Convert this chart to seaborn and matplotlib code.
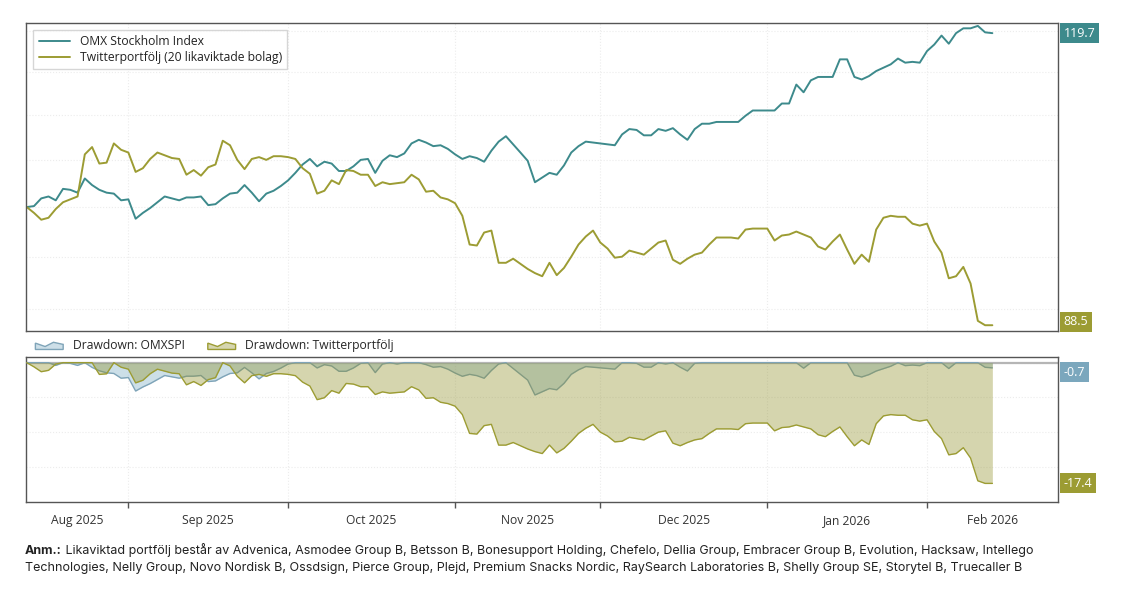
import numpy as np
import pandas as pd
import matplotlib
matplotlib.use("Agg")
import matplotlib.pyplot as plt
import matplotlib.transforms as mtransforms
from matplotlib.patches import Patch, Polygon
from matplotlib.legend_handler import HandlerPatch
from matplotlib.ticker import FixedLocator, NullLocator, NullFormatter
import seaborn as sns

# --- data (one value per trading day) ---
start_date = "2025-08-12"
omx = [100.0, 100.1, 100.9, 101.1, 100.7, 101.9, 101.8, 101.5, 103.0, 102.3,
       101.8, 101.5, 101.4, 100.7, 100.8, 98.8, 99.4, 99.9, 100.5, 101.1,
       100.9, 100.7, 101.0, 101.0, 101.1, 100.2, 100.3, 100.9, 101.4, 101.5,
       102.3, 101.5, 100.6, 101.4, 101.7, 102.2, 102.8, 103.6, 104.5, 105.1,
       104.3, 104.8, 104.6, 103.8, 103.8, 104.3, 105.0, 105.1, 103.6, 104.9,
       105.5, 105.3, 105.7, 106.8, 107.2, 106.9, 106.5, 106.6, 106.2, 105.6,
       105.1, 105.4, 105.2, 104.8, 106.0, 107.0, 107.6, 106.7, 105.8, 104.9,
       102.6, 103.1, 103.6, 103.4, 104.4, 105.8, 106.5, 107.0, 106.9, 106.8,
       106.7, 106.6, 107.8, 108.4, 108.3, 107.7, 107.7, 108.4, 108.2, 108.5,
       107.8, 107.2, 108.4, 109.0, 109.0, 109.2, 109.2, 109.2, 109.2, 109.9,
       110.5, 110.5, 110.5, 110.5, 111.3, 111.3, 113.5, 112.6, 114.0, 114.4,
       114.4, 114.4, 116.5, 116.5, 114.4, 114.1, 114.5, 115.1, 115.5, 115.9,
       116.6, 116.1, 116.2, 116.1, 117.5, 118.3, 119.4, 118.4, 119.7, 120.3,
       120.3, 120.6, 119.8, 119.7]
twitter = [100.0, 99.4, 98.7, 98.9, 99.8, 100.5, 100.8, 101.1, 105.6, 106.4,
           104.6, 104.7, 106.8, 106.1, 105.8, 103.7, 104.1, 105.1, 105.8, 105.5,
           105.2, 105.1, 103.4, 103.9, 103.3, 104.2, 104.5, 107.1, 106.6, 105.0,
           104.0, 105.1, 105.3, 105.0, 105.4, 105.4, 105.3, 105.1, 104.1, 103.5,
           101.4, 101.7, 102.8, 102.4, 103.9, 103.8, 103.4, 103.4, 102.2, 102.6,
           102.4, 102.5, 102.6, 103.4, 102.9, 101.6, 101.7, 101.0, 100.8, 100.4,
           99.1, 96.2, 96.1, 97.4, 97.6, 94.4, 94.4, 94.8, 94.3, 93.8,
           93.4, 93.1, 94.4, 93.2, 93.9, 95.0, 96.2, 97.0, 97.6, 96.4,
           95.8, 94.9, 95.0, 95.6, 95.4, 95.2, 95.8, 96.4, 96.6, 94.7,
           94.3, 94.8, 95.2, 95.4, 96.2, 96.9, 96.9, 96.9, 96.8, 97.7,
           97.8, 97.8, 97.8, 96.6, 97.1, 97.2, 97.5, 97.2, 96.9, 96.0,
           95.7, 96.5, 97.2, 95.7, 94.3, 95.2, 94.5, 97.7, 98.9, 99.1,
           99.0, 99.0, 98.3, 98.1, 98.3, 96.5, 95.4, 92.9, 93.1, 94.0,
           92.4, 88.9, 88.5, 88.5]
series_names = ["OMX Stockholm Index", "Twitterportfölj (20 likaviktade bolag)"]
dd_names = ["Drawdown: OMXSPI", "Drawdown: Twitterportfölj"]
note_bold = "Anm.:"
note_line1 = (" Likaviktad portfölj består av Advenica, Asmodee Group B, Betsson B, "
              "Bonesupport Holding, Chefelo, Dellia Group, Embracer Group B, Evolution, "
              "Hacksaw, Intellego")
note_line2 = ("Technologies, Nelly Group, Novo Nordisk B, Ossdsign, Pierce Group, Plejd, "
              "Premium Snacks Nordic, RaySearch Laboratories B, Shelly Group SE, Storytel B, "
              "Truecaller B")

TEAL = "#3d8a8c"
OLIVE = "#9c9c33"
BLUE_EDGE = "#7fa4b8"
BLUE_BOX = "#7ba7bd"
SPINE = "#555555"
GRID = "#ececec"

sns.set_style("white")
plt.rcParams["font.family"] = ["Open Sans", "DejaVu Sans"]

dates = pd.bdate_range(start_date, periods=len(omx))
pos = np.arange(len(dates))
df = pd.DataFrame({"pos": pos, series_names[0]: omx, series_names[1]: twitter})
long_df = df.melt(id_vars="pos", var_name="serie", value_name="value")

dd_omx = (df[series_names[0]] / df[series_names[0]].cummax() - 1) * 100
dd_tw = (df[series_names[1]] / df[series_names[1]].cummax() - 1) * 100

# month boundaries (first trading day of each month) and label centres
month_start = [i for i in range(1, len(dates)) if dates[i].month != dates[i - 1].month]
xmin, xmax = -0.1, 142.0
edges = [xmin] + month_start + [xmax]
label_pos = [(a + b) / 2 for a, b in zip(edges[:-1], edges[1:])]
month_labels = [dates[0].strftime("%b %Y")] + [dates[i].strftime("%b %Y") for i in month_start]

W, H = 1124, 595
fig = plt.figure(figsize=(W / 100, H / 100), dpi=100)
ax1 = fig.add_axes([26 / W, 1 - 330.7 / H, 1031.7 / W, 308 / H])
ax2 = fig.add_axes([26 / W, 1 - 501.7 / H, 1031.7 / W, 145 / H])

# --- top panel ---
sns.lineplot(data=long_df, x="pos", y="value", hue="serie",
             palette={series_names[0]: TEAL, series_names[1]: OLIVE},
             linewidth=1.4, ax=ax1)
ax1.set_yscale("log")
ax1.set_ylim(88.0, 121.0)
ax1.yaxis.set_major_locator(FixedLocator([90, 95, 100, 105, 110, 115, 120]))
ax1.yaxis.set_minor_locator(NullLocator())
ax1.yaxis.set_major_formatter(NullFormatter())
ax1.yaxis.set_minor_formatter(NullFormatter())
ax1.set_xlim(xmin, xmax)
ax1.xaxis.set_major_locator(FixedLocator(month_start))
ax1.tick_params(left=False, bottom=False, labelleft=False, labelbottom=False)
ax1.set_xlabel("")
ax1.set_ylabel("")
ax1.grid(True, color=GRID, linewidth=0.8, linestyle=":")
leg = ax1.legend(loc="upper left", frameon=True, fancybox=False, edgecolor="#cccccc",
                 fontsize=8.7, handlelength=2.6, borderpad=0.45, labelspacing=0.22,
                 borderaxespad=0.6, title=None)
leg.get_frame().set_linewidth(1.0)
for t in leg.get_texts():
    t.set_color("#222222")

# --- bottom panel ---
ax2.axhline(0, color="#b5b5b5", linewidth=1.6, zorder=1)
ax2.fill_between(pos, dd_omx, 0, color="#8fb8cc", alpha=0.45, linewidth=0, zorder=2)
sns.lineplot(x=pos, y=dd_omx, color=BLUE_EDGE, linewidth=1.0, ax=ax2, zorder=3)
ax2.fill_between(pos, dd_tw, 0, color="#8c8c20", alpha=0.36, linewidth=0, zorder=4)
sns.lineplot(x=pos, y=dd_tw, color=OLIVE, linewidth=1.0, ax=ax2, zorder=5)
ax2.set_ylim(-20.0, 0.86)
ax2.set_xlim(xmin, xmax)
ax2.yaxis.set_major_locator(FixedLocator([-15, -10, -5, 0]))
ax2.tick_params(axis="y", left=False, labelleft=False)
ax2.xaxis.set_major_locator(FixedLocator(month_start))
ax2.xaxis.set_major_formatter(NullFormatter())
ax2.xaxis.set_minor_locator(FixedLocator(label_pos))
ax2.set_xticklabels(month_labels, minor=True)
ax2.tick_params(axis="x", which="major", bottom=True, length=4, width=1, color=SPINE, direction="out")
ax2.tick_params(axis="x", which="minor", bottom=True, length=0, pad=9, labelsize=8.7, labelcolor="#333333")
ax2.set_xlabel("")
ax2.set_ylabel("")
ax2.grid(True, which="major", color=GRID, linewidth=0.8, linestyle=":")


def area_icon(legend, orig_handle, xdescent, ydescent, width, height, fontsize):
    pts = [(-xdescent, -ydescent), (-xdescent, -ydescent + 0.75 * height),
           (-xdescent + 0.35 * width, -ydescent + 0.35 * height),
           (-xdescent + 0.65 * width, -ydescent + 0.85 * height),
           (-xdescent + width, -ydescent + 0.6 * height), (-xdescent + width, -ydescent)]
    return Polygon(pts, closed=True)


dd_handles = [Patch(facecolor="#cddfe8", edgecolor=BLUE_EDGE, linewidth=1.0),
              Patch(facecolor="#d6d6b0", edgecolor=OLIVE, linewidth=1.0)]
ax2.legend(dd_handles, dd_names, loc="lower left", bbox_to_anchor=(0.005, 1.0),
           borderaxespad=0.0, frameon=False, ncol=2, fontsize=8.7,
           handlelength=2.3, handletextpad=0.8, columnspacing=1.9, borderpad=0.35,
           handler_map={Patch: HandlerPatch(patch_func=area_icon)})

for ax in (ax1, ax2):
    for s in ax.spines.values():
        s.set_visible(True)
        s.set_color(SPINE)
        s.set_linewidth(1.0)


# --- end value labels on the right ---
def end_label(ax, value, text, bg, dy=0):
    trans = mtransforms.blended_transform_factory(ax.transAxes, ax.transData)
    ax.annotate(text, xy=(1.0, value), xycoords=trans, xytext=(4.3, dy),
                textcoords="offset points", ha="left", va="center", fontsize=9,
                color="white", annotation_clip=False,
                bbox=dict(boxstyle="square,pad=0.28", facecolor=bg, edgecolor="none"))


end_label(ax1, omx[-1], f"{omx[-1]:.1f}", TEAL)
end_label(ax1, twitter[-1], f"{twitter[-1]:.1f}", OLIVE, dy=2.4)
end_label(ax2, dd_omx.iloc[-1], f"{dd_omx.iloc[-1]:.1f}", BLUE_BOX, dy=-3)
end_label(ax2, dd_tw.iloc[-1], f"{dd_tw.iloc[-1]:.1f}", OLIVE)

# --- footnote ---
foot_font = ["Inter", "DejaVu Sans"]
t1 = fig.text(25 / W, 1 - 551 / H, note_bold, fontsize=9.0, fontweight="bold",
              family=foot_font, va="center", color="#222222")
ax2.annotate(note_line1, xy=(1, 0), xycoords=t1, va="bottom", ha="left",
             fontsize=9.0, family=foot_font, color="#222222")
fig.text(25 / W, 1 - 568 / H, note_line2, fontsize=9.0, family=foot_font,
         va="center", color="#222222")

fig.savefig("out.png", dpi=100)
